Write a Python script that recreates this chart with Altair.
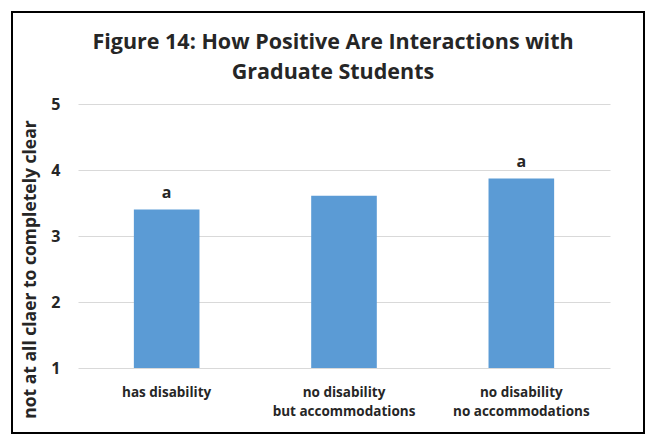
import altair as alt
import pandas as pd

title_lines = ["Figure 14: How Positive Are Interactions with", "Graduate Students"]
categories = ["has disability", "no disability\nbut accommodations", "no disability\nno accommodations"]
values = [3.40, 3.61, 3.87]
letters = ["a", "", "a"]
y_ticks = [1, 2, 3, 4, 5]

df = pd.DataFrame({"cat": categories, "val": values, "sig": letters})
one = pd.DataFrame({"k": [0]})

FONT = "Open Sans"
TXT = "#262626"

x_enc = alt.X("cat:N", sort=categories,
              scale=alt.Scale(paddingInner=0.63, paddingOuter=0.315),
              axis=alt.Axis(title=None, labelAngle=0, domain=False, ticks=False,
                            labelFont=FONT, labelFontSize=13.5, labelFontWeight="bold",
                            labelColor=TXT, labelPadding=17, labelLineHeight=19,
                            labelExpr="split(datum.label, '\\n')"))
y_scale = alt.Scale(domain=[1, 5], zero=False, nice=False)

bars = alt.Chart(df).mark_bar(color="#5B9BD5").encode(
    x=x_enc,
    y=alt.Y("val:Q", scale=y_scale,
            axis=alt.Axis(values=y_ticks, format="d",
                          title="not at all claer to completely clear",
                          domain=False, ticks=False, grid=True, gridColor="#d9d9d9",
                          gridWidth=1.2,
                          labelFont=FONT, labelFontSize=16, labelFontWeight="bold",
                          labelColor=TXT, labelPadding=18,
                          titleFont=FONT, titleFontSize=17.5, titleFontWeight="bold",
                          titleColor=TXT, titleX=-48, titleY=165, titleAngle=270,
                          titleAlign="center", titleBaseline="middle")),
    y2=alt.datum(1),
)

labels = alt.Chart(df).mark_text(font=FONT, fontSize=16, fontWeight="bold",
                                 color=TXT, dy=-17).encode(
    x=alt.X("cat:N", sort=categories),
    y=alt.Y("val:Q", scale=y_scale),
    text="sig:N",
)

title = alt.Chart(one).mark_text(
    text=title_lines, font=FONT, fontSize=21.5, fontWeight="bold", color=TXT,
    lineHeight=30, align="center", baseline="alphabetic",
).encode(x=alt.value(255), y=alt.value(-55))

frame = alt.Chart(one).mark_rect(fill=None, stroke="#000000", strokeWidth=2, clip=False).encode(
    x=alt.value(-66), x2=alt.value(566), y=alt.value(-92), y2=alt.value(329)
)

chart = alt.layer(bars, labels, title, frame).properties(
    width=532, height=264,
    autosize="none",
    padding={"left": 70, "top": 96, "right": 37, "bottom": 66},
).configure_view(stroke=None)

chart.save("out.html", embed_options={"renderer": "svg", "actions": False})
